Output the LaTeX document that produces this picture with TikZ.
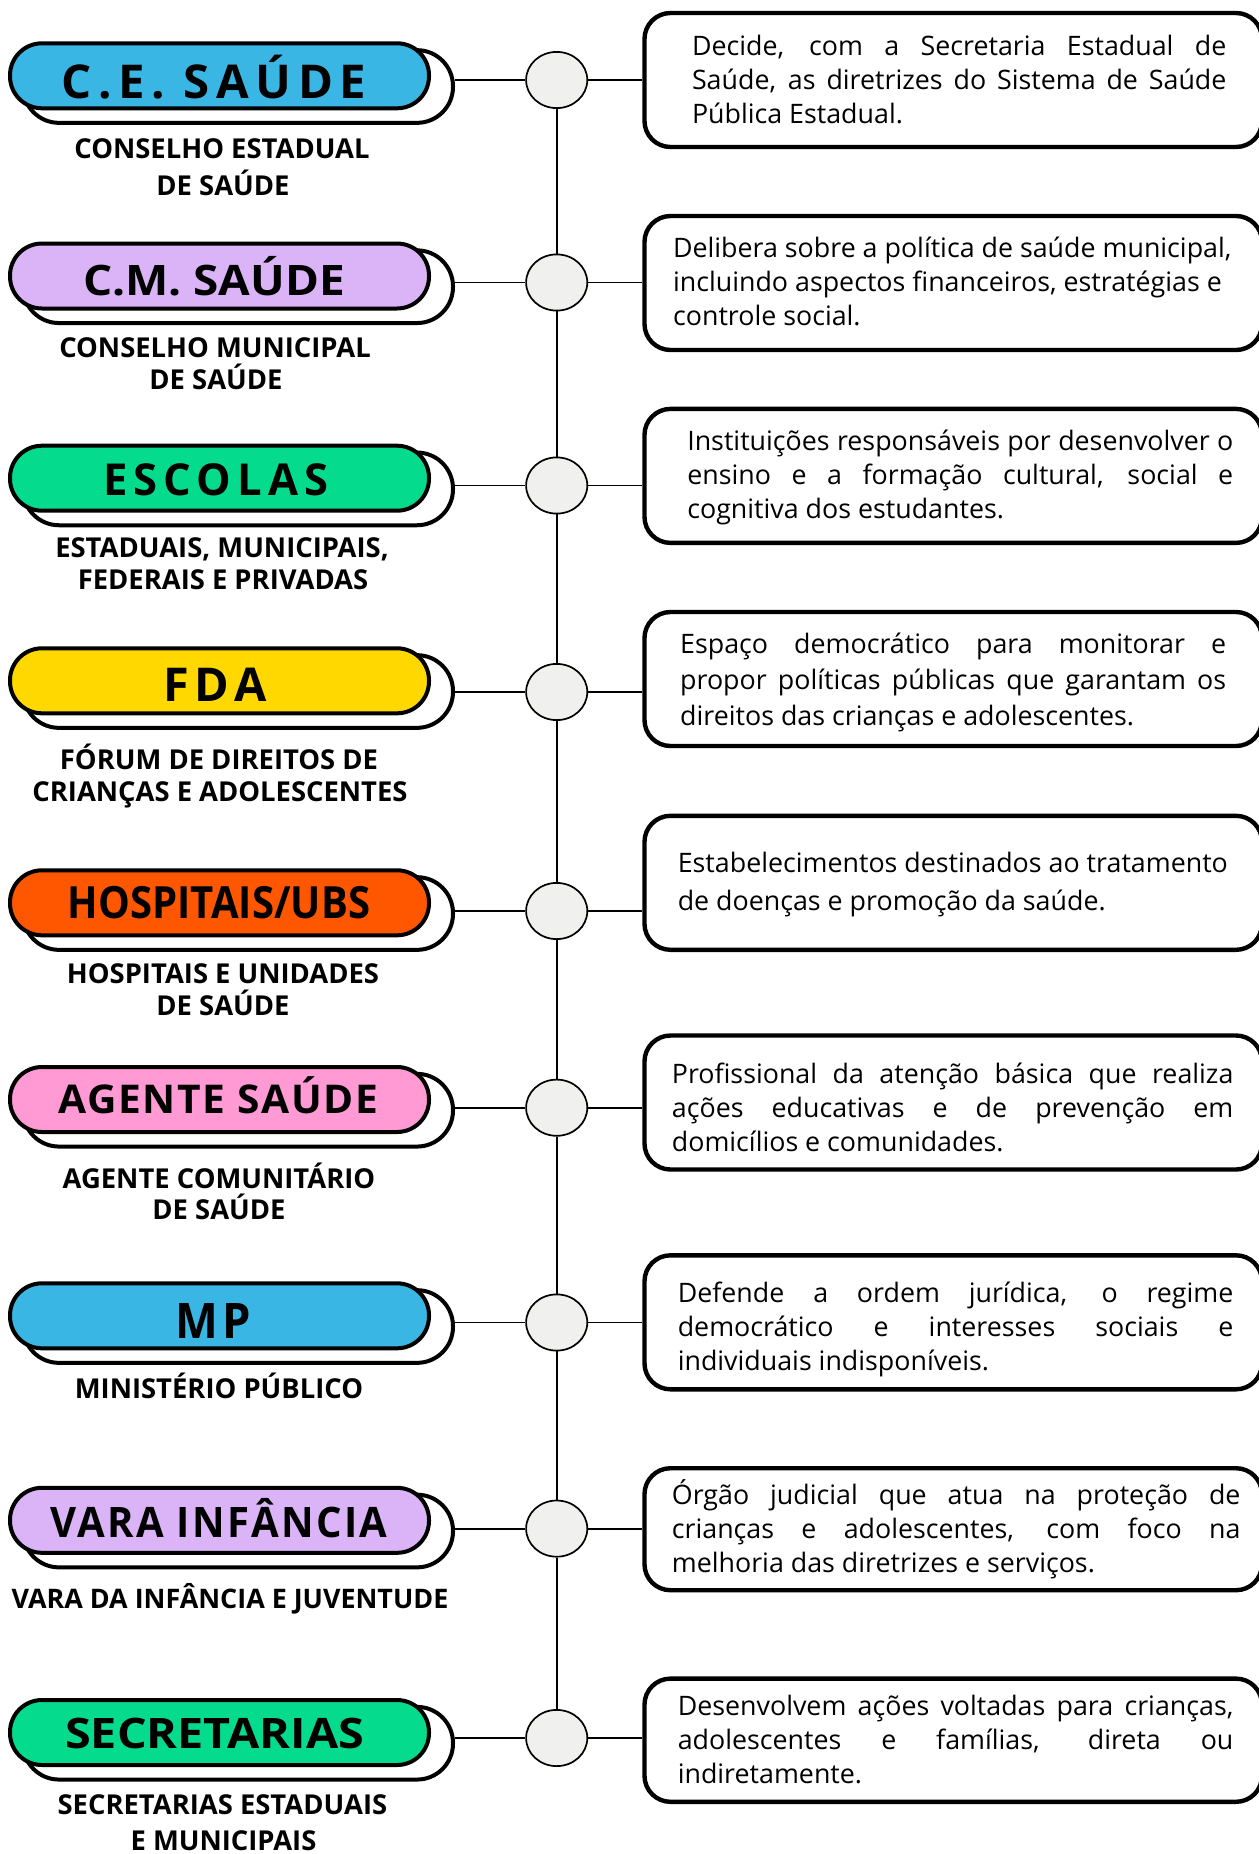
\documentclass[tikz,border=0pt]{standalone}
\usepackage{fontspec}
\setmainfont{Open Sans}
\usepackage{graphicx}
\usetikzlibrary{shapes.geometric}
\definecolor{cblue}{RGB}{58,182,228}
\definecolor{clav}{RGB}{218,180,246}
\definecolor{cgreen}{RGB}{4,219,140}
\definecolor{cyellow}{RGB}{255,216,0}
\definecolor{corange}{RGB}{255,86,0}
\definecolor{cpink}{RGB}{255,154,212}
\definecolor{cdot}{RGB}{240,240,239}
% #1 visual width, #2 font size, #3 letter space (percent), #4 text
\newcommand\ttl[4]{\resizebox{#1}{\height}{\fontsize{#2}{#2}\selectfont\bfseries\addfontfeature{LetterSpace=#3}#4}}
\newcommand\jl[2]{\makebox[#1][s]{#2}\strut}
\tikzset{
 pill/.style={draw=black, line width=2pt, rounded corners=16pt, minimum width=209.5pt, minimum height=32.5pt, inner sep=0pt},
 shad/.style={draw=black, fill=white, line width=2pt, rounded corners=18pt, minimum width=215pt, minimum height=36.35pt, inner sep=0pt},
 dot/.style={ellipse, draw=black, fill=cdot, line width=0.85pt, minimum width=30.6pt, minimum height=28.1pt, inner sep=0pt},
 dbox/.style={draw=black, line width=2.2pt, rounded corners=13pt, minimum width=308.75pt, inner sep=0pt},
 link/.style={draw=black, line width=0.9pt},
 sub/.style={font=\fontsize{13.7pt}{13.7pt}\selectfont\bfseries, anchor=base, inner sep=0pt},
 ttlnode/.style={anchor=base, inner sep=0pt},
 desc/.style={font=\fontsize{13.4pt}{17pt}\selectfont, align=left, inner sep=0pt, anchor=west},
}
\begin{document}
\begin{tikzpicture}[x=0.5pt,y=-0.5pt]
\useasboundingbox (0,0) rectangle (1259,1854);
% ---------- row 1
\node[shad] (s1) at (238,86.5) {};
\node[pill, fill=cblue] (p1) at (219.5,75.8) {};
\node[ttlnode] (t1) at (214,98.4) {\ttl{152.5pt}{23.3pt}{14}{C.E. SAÚDE}};
\node[sub] (u1a) at (222,158.6) {CONSELHO ESTADUAL};
\node[sub] (u1b) at (223,195.1) {DE SAÚDE};
\node[dot] (c1) at (556.7,80) {};
\node[dbox, minimum height=67pt] (b1) at (953.25,80) {};
\node[desc] (d1) at (691.6,82.9) {\jl{267.2pt}{Decide, com a Secretaria Estadual de}\\\jl{267.2pt}{Saúde, as diretrizes do Sistema de Saúde}\\Pública Estadual.\strut};
% ---------- row 2
\node[shad] (s2) at (238,286.7) {};
\node[pill, fill=clav] (p2) at (219.5,276) {};
\node[ttlnode] (t2) at (214,295) {\ttl{130.9pt}{21pt}{0}{C.M. SAÚDE}};
\node[sub] (u2a) at (215,357.8) {CONSELHO MUNICIPAL};
\node[sub] (u2b) at (216,389.5) {DE SAÚDE};
\node[dot] (c2) at (556.7,282.5) {};
\node[dbox, minimum height=67pt] (b2) at (953.25,283) {};
\node[desc] (d2) at (672.7,285) {Delibera sobre a política de saúde municipal,\strut\\incluindo aspectos financeiros, estratégias e\strut\\controle social.\strut};
% ---------- row 3
\node[shad] (s3) at (238,488.9) {};
\node[pill, fill=cgreen] (p3) at (219.5,478.2) {};
\node[ttlnode] (t3) at (216,495.9) {\ttl{112.5pt}{22pt}{14}{ESCOLAS}};
\node[sub] (u3a) at (222,557.8) {ESTADUAIS, MUNICIPAIS,};
\node[sub] (u3b) at (223,589.8) {FEDERAIS E PRIVADAS};
\node[dot] (c3) at (556.7,485.5) {};
\node[dbox, minimum height=67pt] (b3) at (953.25,475.9) {};
\node[desc] (d3) at (686.9,477.7) {\jl{273pt}{Instituições responsáveis por desenvolver o}\\\jl{273pt}{ensino e a formação cultural, social e}\\cognitiva dos estudantes.\strut};
% ---------- row 4
\node[shad] (s4) at (238,691.5) {};
\node[pill, fill=cyellow] (p4) at (219.5,680.8) {};
\node[ttlnode] (t4) at (215,701.7) {\ttl{51.5pt}{23.3pt}{12}{FDA}};
\node[sub] (u4a) at (219,769.3) {FÓRUM DE DIREITOS DE};
\node[sub] (u4b) at (220,801.3) {CRIANÇAS E ADOLESCENTES};
\node[dot] (c4) at (556.7,692) {};
\node[dbox, minimum height=67pt] (b4) at (953.25,679) {};
\node[desc, font=\fontsize{13.4pt}{18pt}\selectfont] (d4) at (679.8,682.7) {\jl{273pt}{Espaço democrático para monitorar e}\\\jl{273pt}{propor políticas públicas que garantam os}\\direitos das crianças e adolescentes.\strut};
% ---------- row 5
\node[shad] (s5) at (238,913.5) {};
\node[pill, fill=corange] (p5) at (219.5,902.8) {};
\node[ttlnode] (t5) at (219,918.4) {\ttl{151pt}{22.2pt}{0}{HOSPITAIS/UBS}};
\node[sub] (u5a) at (223,983.3) {HOSPITAIS E UNIDADES};
\node[sub] (u5b) at (223,1015.3) {DE SAÚDE};
\node[dot] (c5) at (556.7,911) {};
\node[dbox, minimum height=67pt] (b5) at (953.25,882.8) {};
\node[desc, font=\fontsize{13.4pt}{18.8pt}\selectfont] (d5) at (677.4,884) {Estabelecimentos destinados ao tratamento\strut\\de doenças e promoção da saúde.\strut};
% ---------- row 6
\node[shad] (s6) at (238,1110.2) {};
\node[pill, fill=cpink] (p6) at (219.5,1099.5) {};
\node[ttlnode] (t6) at (218.3,1113.2) {\ttl{160pt}{19.8pt}{4}{AGENTE SAÚDE}};
\node[sub] (u6a) at (219,1188.3) {AGENTE COMUNITÁRIO};
\node[sub] (u6b) at (219,1219) {DE SAÚDE};
\node[dot] (c6) at (556.7,1107.7) {};
\node[dbox, minimum height=67pt] (b6) at (953.25,1102.5) {};
\node[desc] (d6) at (671.5,1110.2) {\jl{280.75pt}{Profissional da atenção básica que realiza}\\\jl{280.75pt}{ações educativas e de prevenção em}\\domicílios e comunidades.\strut};
% ---------- row 7
\node[shad] (s7) at (238,1326.5) {};
\node[pill, fill=cblue] (p7) at (219.5,1315.8) {};
\node[ttlnode] (t7) at (213.5,1338) {\ttl{37.9pt}{24.5pt}{10}{MP}};
\node[sub] (u7a) at (219,1398.3) {MINISTÉRIO PÚBLICO};
\node[dot] (c7) at (556.7,1322.5) {};
\node[dbox, minimum height=67pt] (b7) at (953.25,1322.3) {};
\node[desc] (d7) at (677.4,1330.1) {\jl{277.8pt}{Defende a ordem jurídica, o regime}\\\jl{277.8pt}{democrático e interesses sociais e}\\individuais indisponíveis.\strut};
% ---------- row 8
\node[shad] (s8) at (238,1531) {};
\node[pill, fill=clav] (p8) at (219.5,1520.3) {};
\node[ttlnode] (t8) at (219,1537.3) {\ttl{168.5pt}{21pt}{6}{VARA INFÂNCIA}};
\node[sub, font=\fontsize{13.45pt}{13.45pt}\selectfont\bfseries] (u8a) at (230,1608.8) {VARA DA INFÂNCIA E JUVENTUDE};
\node[dot] (c8) at (556.7,1528.6) {};
\node[dbox, minimum height=61pt] (b8) at (953.25,1529.2) {};
\node[desc] (d8) at (671.5,1531.1) {\jl{284.3pt}{Órgão judicial que atua na proteção de}\\\jl{284.3pt}{crianças e adolescentes, com foco na}\\melhoria das diretrizes e serviços.\strut};
% ---------- row 9
\node[shad] (s9) at (238,1743.2) {};
\node[pill, fill=cgreen] (p9) at (219.5,1732.5) {};
\node[ttlnode] (t9) at (214.6,1748) {\ttl{149.4pt}{21pt}{0}{SECRETARIAS}};
\node[sub] (u9a) at (222.4,1814.3) {SECRETARIAS ESTADUAIS};
\node[sub] (u9b) at (223.5,1850.5) {E MUNICIPAIS};
\node[dot] (c9) at (556.7,1738) {};
\node[dbox, minimum height=61.6pt] (b9) at (953.25,1740.2) {};
\node[desc] (d9) at (677.4,1742.7) {\jl{277.8pt}{Desenvolvem ações voltadas para crianças,}\\\jl{277.8pt}{adolescentes e famílias, direta ou}\\indiretamente.\strut};
% ---------- connectors
\foreach \i in {1,...,9}{
  \draw[link] (c\i.west -| s\i.east) -- (c\i.west);
  \draw[link] (c\i.east) -- (c\i.east -| b\i.west);
}
\foreach \i/\j in {1/2,2/3,3/4,4/5,5/6,6/7,7/8,8/9}{
  \draw[link] (c\i) -- (c\j);
}
\end{tikzpicture}
\end{document}
